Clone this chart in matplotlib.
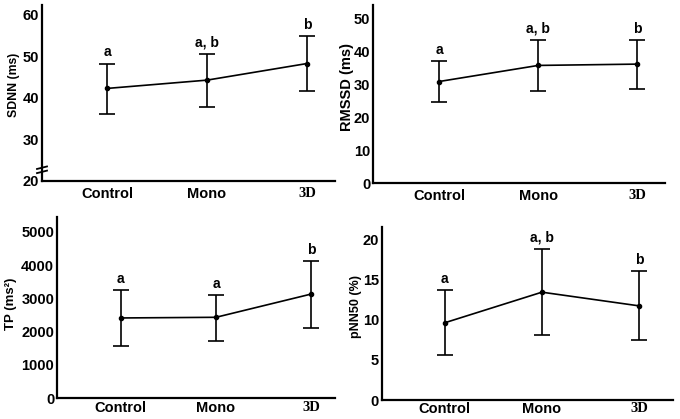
import matplotlib.pyplot as plt

plt.rcParams['font.family'] = ['Liberation Sans', 'DejaVu Sans']
plt.rcParams['font.weight'] = 'bold'

groups = ["Control", "Mono", "3D"]

# mean and upper/lower ends of the error bars
sdnn_mean = [42.3, 44.3, 48.3]
sdnn_upper = [48.3, 50.7, 55.0]
sdnn_lower = [36.2, 37.9, 41.7]
sdnn_letters = ["a", "a, b", "b"]

rmssd_mean = [30.9, 35.8, 36.2]
rmssd_upper = [37.0, 43.6, 43.4]
rmssd_lower = [24.6, 27.9, 28.7]
rmssd_letters = ["a", "a, b", "b"]

tp_mean = [2410, 2430, 3130]
tp_upper = [3260, 3100, 4130]
tp_lower = [1560, 1730, 2120]
tp_letters = ["a", "a", "b"]

pnn_mean = [9.6, 13.4, 11.7]
pnn_upper = [13.7, 18.75, 16.0]
pnn_lower = [5.6, 8.05, 7.47]
pnn_letters = ["a", "a, b", "b"]

W, H = 680, 419
fig = plt.figure(figsize=(W / 100, H / 100), dpi=100)


def px_axes(left, top, right, bottom):
    return fig.add_axes([left / W, 1 - bottom / H, (right - left) / W, (bottom - top) / H])


def panel(ax, mean, upper, lower, letters, ylabel, lsize, ylim, yticks, xlim, xpad):
    x = list(range(len(groups)))
    yerr = [[m - l for m, l in zip(mean, lower)], [u - m for m, u in zip(mean, upper)]]
    ax.errorbar(x, mean, yerr=yerr, color='black', lw=1.2, elinewidth=1.2,
                capsize=6, capthick=1.2, marker='o', ms=3)
    for xi, u, t in zip(x, upper, letters):
        ax.annotate(t, (xi, u), xytext=(0, 3), textcoords='offset points',
                    ha='center', va='bottom', fontsize=10, fontweight='bold')
    ax.set_xlim(xlim)
    ax.set_ylim(ylim)
    ax.set_yticks(yticks)
    ax.set_xticks(x)
    ax.set_xticklabels(groups)
    ax.xaxis.get_ticklabels()[2].set_family('Liberation Serif')
    for s in ['top', 'right']:
        ax.spines[s].set_visible(False)
    for s in ['left', 'bottom']:
        ax.spines[s].set_linewidth(1.6)
    ax.tick_params(axis='both', length=0, labelsize=10.5)
    ax.tick_params(axis='x', pad=xpad)
    ax.tick_params(axis='y', pad=2)
    for lab in ax.get_xticklabels() + ax.get_yticklabels():
        lab.set_fontweight('bold')
    ax.set_ylabel(ylabel, fontsize=lsize, fontweight='bold')


ax1 = px_axes(42, 5, 335, 181)
panel(ax1, sdnn_mean, sdnn_upper, sdnn_lower, sdnn_letters, "SDNN (ms)", 8.8,
      (20, 62.4), [20, 30, 40, 50, 60], (-0.65, 2.28), 4)
# axis break mark
for yb in [22.2, 23.2]:
    ax1.plot([-0.70, -0.60], [yb - 0.3, yb + 0.3], color='black', lw=1.3, clip_on=False)
ax1.yaxis.set_label_coords(-0.075, 0.545)

ax2 = px_axes(373, 5, 665, 183)
panel(ax2, rmssd_mean, rmssd_upper, rmssd_lower, rmssd_letters, "RMSSD (ms)", 10.5,
      (0, 54.2), [0, 10, 20, 30, 40, 50], (-0.667, 2.28), 4)
ax2.yaxis.set_label_coords(-0.066, 0.54)

ax3 = px_axes(57, 217, 335, 398)
panel(ax3, tp_mean, tp_upper, tp_lower, tp_letters, "TP (ms²)", 9.5,
      (0, 5450), [0, 1000, 2000, 3000, 4000, 5000], (-0.67, 2.25), 2)
ax3.yaxis.set_label_coords(-0.145, 0.52)

ax4 = px_axes(381.7, 227, 673, 400)
panel(ax4, pnn_mean, pnn_upper, pnn_lower, pnn_letters, "pNN50 (%)", 9,
      (0, 21.5), [0, 5, 10, 15, 20], (-0.65, 2.35), 1.5)
ax4.yaxis.set_label_coords(-0.068, 0.54)

fig.savefig("out.png", dpi=100)
